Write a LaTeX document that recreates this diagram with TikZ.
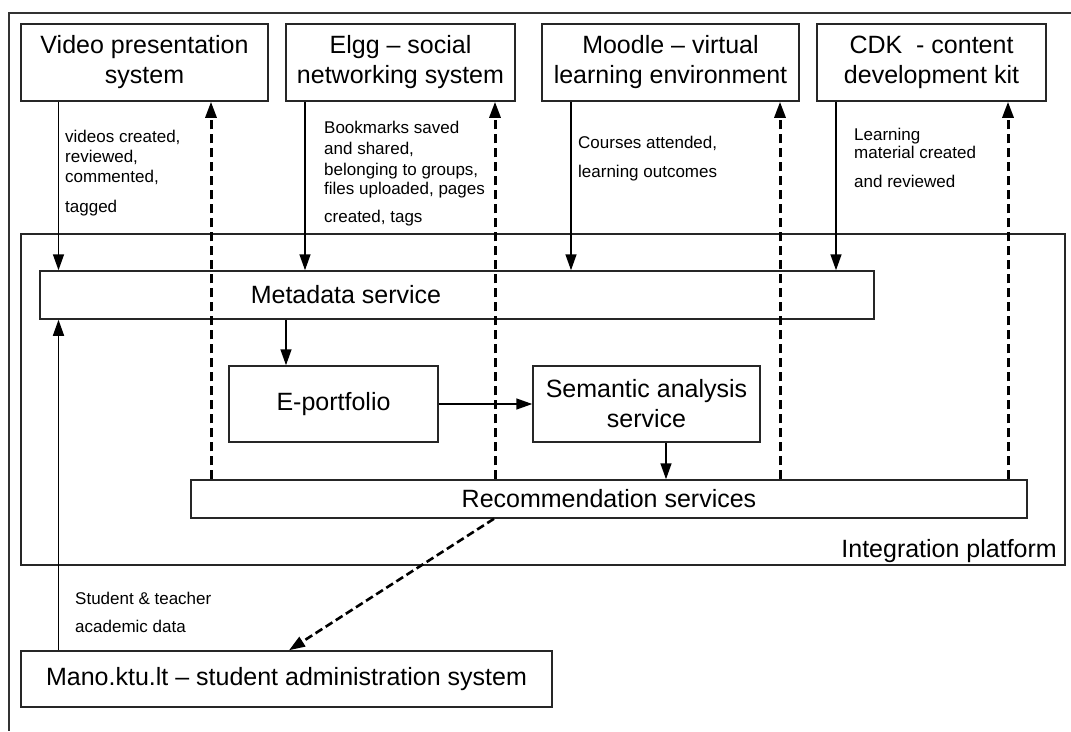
\documentclass[tikz,border=0pt]{standalone}
\usepackage{fontspec}
\setmainfont{Liberation Sans}
\usetikzlibrary{arrows.meta}
\begin{document}
\begin{tikzpicture}[x=1pt,y=-1pt,
  box/.style={draw=black!85, line width=1.5pt, rectangle, inner sep=0pt, align=center,
              font=\fontsize{25}{30}\selectfont},
  txt/.style={inner sep=0pt, font=\fontsize{25}{30}\selectfont},
  lbl/.style={anchor=base west, inner sep=0pt, font=\fontsize{17}{20}\selectfont},
  arr/.style={line width=1.5pt, -{Triangle[length=16pt,width=11pt]}},
  darr/.style={line width=3pt, dash pattern=on 9pt off 5pt, -{Triangle[length=16pt,width=11pt]}},
]
\useasboundingbox (0,0) rectangle (1071,731);

% outer frame (top and left edges)
\draw[black!80, line width=1.5pt] (1071,13) -- (9,13) -- (9,731);

% top systems
\node[box, minimum width=247pt, minimum height=77pt] (video)  at (144.5,62.5) {Video presentation\\system};
\node[box, minimum width=229pt, minimum height=77pt] (elgg)   at (400.5,62.5) {Elgg – social\\networking system};
\node[box, minimum width=257pt, minimum height=77pt] (moodle) at (670.5,62.5) {Moodle – virtual\\learning environment};
\node[box, minimum width=229pt, minimum height=77pt] (cdk)    at (931.5,62.5) {CDK~ - content\\development kit};

% integration platform
\node[box, minimum width=1044pt, minimum height=331pt] (integ) at (543,399.5) {};
\node[txt, anchor=base east] (integlbl) at (1057,557) {Integration platform};

% inner services
\node[box, minimum width=834pt, minimum height=48pt] (meta) at (457,295) {};
\node[txt] (metalbl) at (346,295) {Metadata service};
\node[box, minimum width=209pt, minimum height=76pt] (eport) at (333.5,404) {E-portfolio};
\node[box, minimum width=227pt, minimum height=76pt] (sem) at (646.5,404) {Semantic analysis\\service};
\node[box, minimum width=836pt, minimum height=38pt] (rec) at (609,499) {Recommendation services};

% student administration
\node[box, minimum width=531pt, minimum height=56pt] (mano) at (286.5,679) {Mano.ktu.lt – student administration system};

% x positions of connectors
\coordinate (xV)  at (58.5,0);
\coordinate (dV)  at (211,0);
\coordinate (xE)  at (305,0);
\coordinate (dE)  at (495,0);
\coordinate (xM)  at (571,0);
\coordinate (dM)  at (780,0);
\coordinate (xC)  at (836,0);
\coordinate (dC)  at (1008,0);
\coordinate (xME) at (286,0);
\coordinate (xSR) at (666,0);
\coordinate (xR1) at (494,0);
\coordinate (xR2) at (289,0);

% solid data flows into metadata service
\draw[arr] (video.south -| xV) -- (meta.north -| xV);
\draw[arr] (elgg.south -| xE) -- (meta.north -| xE);
\draw[arr] (moodle.south -| xM) -- (meta.north -| xM);
\draw[arr] (cdk.south -| xC) -- (meta.north -| xC);

% dashed recommendations back to systems
\draw[darr] (rec.north -| dV) -- (video.south -| dV);
\draw[darr] (rec.north -| dE) -- (elgg.south -| dE);
\draw[darr] (rec.north -| dM) -- (moodle.south -| dM);
\draw[darr] (rec.north -| dC) -- (cdk.south -| dC);

% internal flows
\draw[arr] (meta.south -| xME) -- (eport.north -| xME);
\draw[arr] (eport.east) -- (sem.west);
\draw[arr] (sem.south -| xSR) -- (rec.north -| xSR);

% student administration links
\draw[arr] (mano.north -| xV) -- (meta.south -| xV);
\draw[line width=2.6pt, dash pattern=on 8pt off 4pt, -{Triangle[length=16pt,width=11pt]}] (rec.south -| xR1) -- (mano.north -| xR2);

% labels
\node[lbl] (v1) at (65,142) {videos created,};
\node[lbl] (v2) at (65,162) {reviewed,};
\node[lbl] (v3) at (65,182) {commented,};
\node[lbl] (v4) at (65,212) {tagged};

\node[lbl] (e1) at (324,133) {Bookmarks saved};
\node[lbl] (e2) at (324,154) {and shared,};
\node[lbl] (e3) at (324,175) {belonging to groups,};
\node[lbl] (e4) at (324,194) {files uploaded, pages};
\node[lbl] (e5) at (324,222) {created, tags};

\node[lbl] (m1) at (578,148) {Courses attended,};
\node[lbl] (m2) at (578,177) {learning outcomes};

\node[lbl] (c1) at (854,140) {Learning};
\node[lbl] (c2) at (854,158) {material created};
\node[lbl] (c3) at (854,187) {and reviewed};

\node[lbl] (s1) at (75,604) {Student \& teacher};
\node[lbl] (s2) at (75,632) {academic data};
\end{tikzpicture}
\end{document}
